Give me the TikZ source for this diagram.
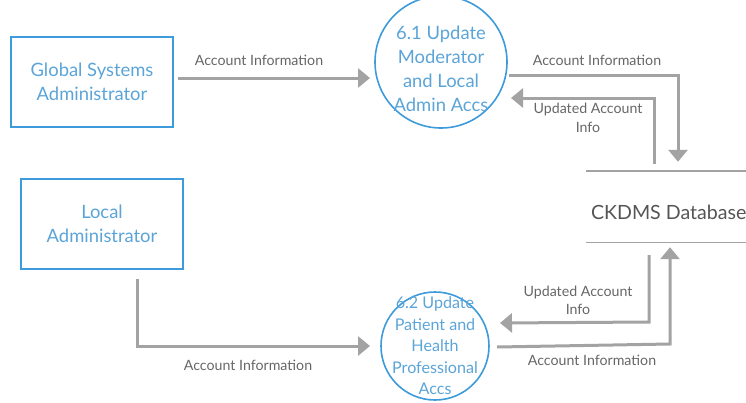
\documentclass[tikz,border=0pt]{standalone}
\usepackage{fontspec}
\setmainfont{Lato}
\usetikzlibrary{arrows.meta}
\definecolor{bblue}{HTML}{3D9BDB}
\definecolor{tblue}{HTML}{5BA4D8}
\definecolor{agrey}{HTML}{A3A3A3}
\definecolor{lgrey}{HTML}{666666}
\definecolor{dgrey}{HTML}{555555}
\tikzset{
  entity/.style={draw=bblue, line width=1.6pt, minimum width=162pt, minimum height=90pt, inner sep=0pt, text=tblue, font=\fontsize{18.4}{24}\selectfont, align=center},
  proc/.style={circle, draw=bblue, line width=1.6pt, inner sep=0pt},
  ptext/.style={text=tblue, align=center, inner sep=0pt},
  flow/.style={draw=agrey, line width=3pt, -{Triangle[length=12pt,width=19pt]}},
  lbl/.style={text=lgrey, font=\fontsize{14.2}{18.5}\selectfont, align=center, inner sep=0pt},
}
\begin{document}
\begin{tikzpicture}[x=1pt,y=-1pt]
\useasboundingbox (0,0) rectangle (746,402);
\node[entity] (gsa) at (92,82) {Global Systems\\Administrator};
\node[entity] (la) at (102,224) {Local\\Administrator};
\node[proc, minimum size=132pt] (c61) at (441,62) {};
\node[ptext, font=\fontsize{18.4}{24}\selectfont] (c61t) at (441,69) {6.1 Update\\Moderator\\and Local\\Admin Accs};
\node[proc, minimum size=108pt] (c62) at (435,346) {};
\node[ptext, font=\fontsize{16.1}{21.5}\selectfont] (c62t) at (435,346) {6.2 Update\\Patient and\\Health\\Professional\\Accs};
\node[minimum width=170pt, minimum height=71pt, inner sep=0pt] (db) at (671,206.5) {};
\draw[agrey, line width=1.4pt] (db.north west) -- (db.north east);
\draw[agrey, line width=1.4pt] (db.south west) -- (db.south east);
\node[anchor=west, text=dgrey, font=\fontsize{19.6}{24}\selectfont, inner sep=0pt] (dbt) at ([xshift=5pt,yshift=-5.5pt]db.west) {CKDMS Database};
% gsa -> c61
\coordinate (a1) at ([xshift=4pt,yshift=4pt]gsa.east);
\coordinate (a2) at (370,78);
\draw[flow] (a1) -- (a2);
\node[lbl] (l1) at (259,60) {Account Information};
% c61 -> db
\coordinate (b1) at (509,75);
\coordinate (b2) at (678,75);
\draw[flow] (b1) -- (b2) -- ([yshift=9pt]b2 |- db.north);
\node[lbl] (l2) at (597,60) {Account Information};
% db -> c61
\coordinate (c1) at (654,98);
\draw[flow] ([yshift=7pt]c1 |- db.north) -- (c1) -- (511,98);
\node[lbl] (l3) at (588,118) {Updated Account\\Info};
% la -> c62
\coordinate (d1) at (137,346);
\draw[flow] ([yshift=-9pt]d1 |- la.south) -- (d1) -- (370,346);
\node[lbl] (l4) at (248,365) {Account Information};
% db -> c62
\coordinate (e1) at (649,322);
\draw[flow] ([yshift=-13pt]e1 |- db.south) -- (e1) -- (500,323);
\node[lbl] (l5) at (578,300.5) {Updated Account\\Info};
% c62 -> db
\coordinate (f1) at (670,344);
\draw[flow] (497,347) -- (f1) -- ([yshift=-5pt]f1 |- db.south);
\node[lbl] (l6) at (592,360) {Account Information};
\end{tikzpicture}
\end{document}
